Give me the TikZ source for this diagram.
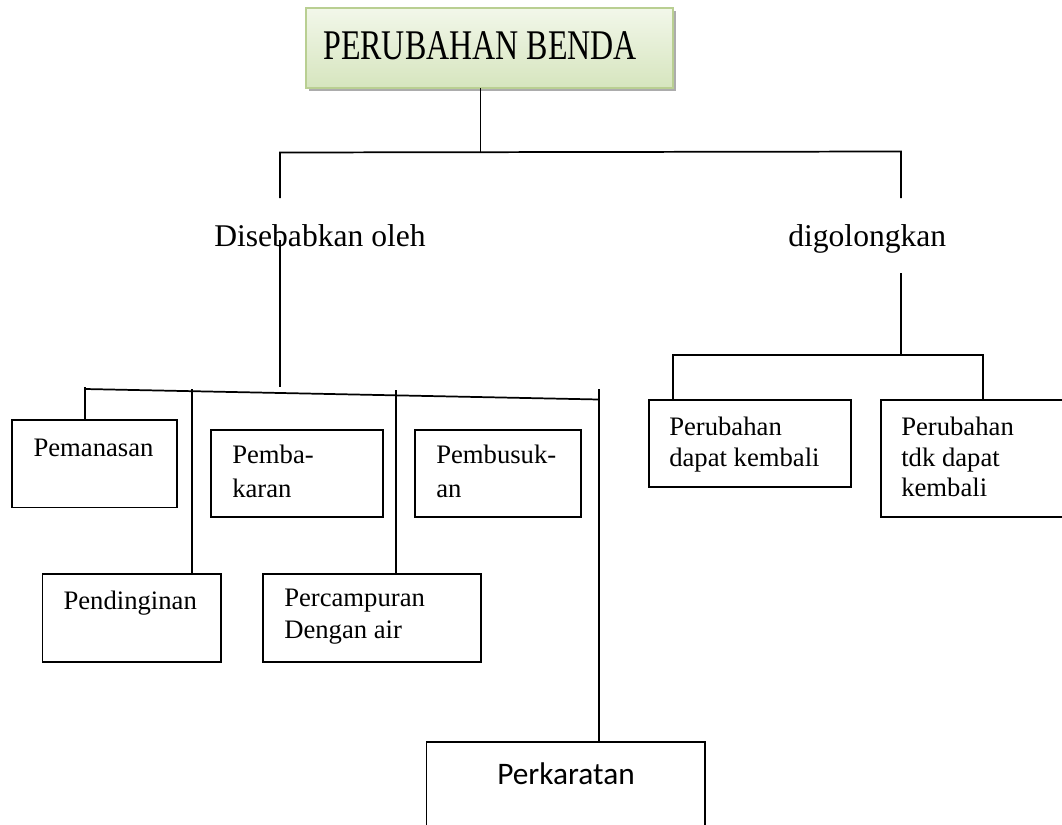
\documentclass[tikz,border=0pt]{standalone}
\usepackage{fontspec}
\setmainfont{Liberation Serif}
\newfontfamily\calfont{Carlito}
\usetikzlibrary{calc,shadows}

\definecolor{titletop}{HTML}{F2F7EA}
\definecolor{titlebot}{HTML}{D6E5BE}
\definecolor{titleedge}{HTML}{B9CF92}

\tikzset{
  conn/.style={line width=1.3pt},
  boxst/.style={draw, line width=1.4pt, rectangle, inner sep=0pt, outer sep=0pt, anchor=north west},
  % first line top placed 18.2px above its baseline
  boxtxt/.style={anchor=north west, inner sep=0pt, align=left, font=\fontsize{20pt}{23.5pt}\selectfont},
  lbl/.style={anchor=base west, inner sep=0pt, font=\fontsize{23.7pt}{28pt}\selectfont},
}

\begin{document}
\begin{tikzpicture}[x=0.75pt, y=-0.75pt]
  \useasboundingbox (0,0) rectangle (1062,824);
  \fill[white] (0,0) rectangle (1062,824);
  \clip (0,0) rectangle (1062,824);

  % title box
  \node[boxst, draw=titleedge, line width=1pt, top color=titletop, bottom color=titlebot,
        minimum width=275.3pt, minimum height=60pt,
        drop shadow={shadow xshift=2.3pt, shadow yshift=-2.3pt, fill=gray!65, opacity=1}]
        (tt) at (306,8) {};
  \node[lbl, font=\fontsize{24pt}{28pt}\selectfont] (ttx) at (323,60)
        {\scalebox{1}[1.32]{PERUBAHAN BENDA}};

  % first-level labels
  \node[lbl] (dis) at (214,246) {Disebabkan oleh};
  \node[lbl] (dig) at (788,246) {digolongkan};

  % boxes of the left branch
  \node[boxst, minimum width=123.3pt, minimum height=65.6pt] (pm) at (12.3,420) {};
  \node[boxst, minimum width=129.2pt, minimum height=65.5pt] (pb) at (211,430) {};
  \node[boxst, minimum width=124.3pt, minimum height=65.5pt] (pk) at (415,430) {};
  \node[boxst, minimum width=133.6pt, minimum height=65.8pt] (pd) at (42.5,574) {};
  \node[boxst, minimum width=163.7pt, minimum height=65.8pt] (pc) at (263,574) {};
  \node[boxst, minimum width=208.9pt, minimum height=81pt] (pr) at (426.5,742) {};

  \node[boxtxt] (pmx) at (33.3,438.3) {Pemanasan};
  \node[boxtxt, font=\fontsize{20pt}{25pt}\selectfont] (pbx) at (232,445.1) {Pemba-\\karan};
  \node[boxtxt, font=\fontsize{20pt}{25pt}\selectfont] (pkx) at (436,445.1) {Pembusuk-\\an};
  \node[boxtxt] (pdx) at (63.3,590.3) {Pendinginan};
  \node[boxtxt] (pcx) at (284,589.1) {Percampuran\\Dengan air};
  \node[anchor=base, inner sep=0pt, font=\calfont\fontsize{23.5pt}{28pt}\selectfont] (prx)
        at (566,784) {Perkaratan};

  % boxes of the right branch
  \node[boxst, minimum width=151.5pt, minimum height=65.3pt] (b1) at (649,400) {};
  \node[boxst, minimum width=142.5pt, minimum height=87.8pt] (b2) at (881,400) {};
  \node[boxtxt] (b1x) at (669,416.8) {Perubahan\\dapat kembali};
  \node[boxtxt, font=\fontsize{20pt}{23pt}\selectfont] (b2x) at (901,416.8) {Perubahan\\tdk dapat\\kembali};

  % connector points
  \coordinate (tj) at (480.5,152);
  \coordinate (tl) at (280,152.5);
  \coordinate (tr) at (901,151.5);
  \coordinate (tld) at (280,198);
  \coordinate (trd) at (901,198);

  \coordinate (ds1) at (280,240);
  \coordinate (ds2) at (280,387);
  \coordinate (barL) at (85,389);
  \coordinate (barR) at (599,399.5);
  \coordinate (vpm) at (85,387);
  \coordinate (vpd) at (192,389);
  \coordinate (vpc) at (396,390);
  \coordinate (vpr) at (599,389);

  \coordinate (dg1) at (901,273);
  \coordinate (dg2) at (901,355);
  \coordinate (rbL) at (673,355);
  \coordinate (rbR) at (983,355);

  % upper tree
  \draw[conn] (tj |- tt.south) -- (tj);
  \draw[conn] (tld) -- (tl) -- (tr) -- (trd);

  % left branch
  \draw[conn] (ds1) -- (ds2);
  \draw[conn] (barL) -- (barR);
  \draw[conn] (vpm) -- (vpm |- pm.north);
  \draw[conn] (vpd) -- (vpd |- pd.north);
  \draw[conn] (vpc) -- (vpc |- pc.north);
  \draw[conn] (vpr) -- (vpr |- pr.north);

  % right branch
  \draw[conn] (dg1) -- (dg2);
  \draw[conn] (rbL |- b1.north) -- (rbL) -- (rbR) -- (rbR |- b2.north);
\end{tikzpicture}
\end{document}
